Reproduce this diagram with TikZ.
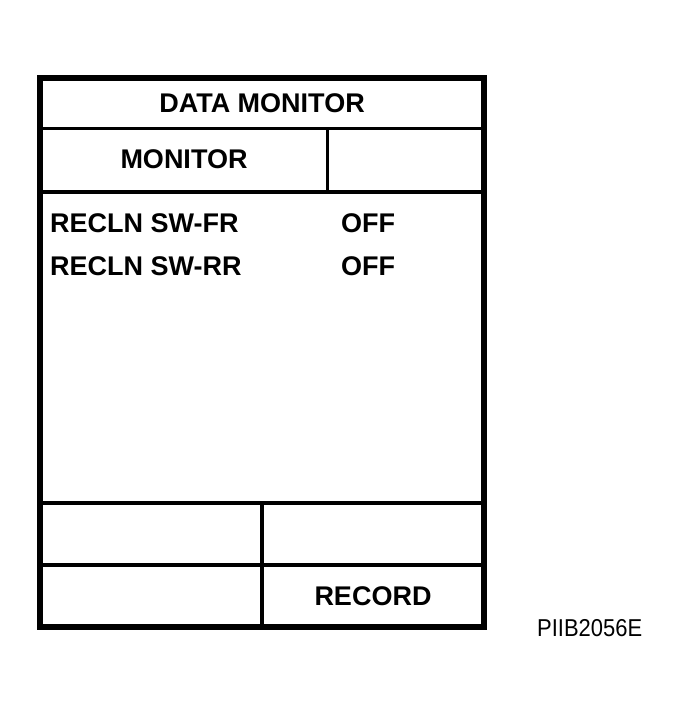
\documentclass[tikz,border=0pt]{standalone}
\usepackage{fontspec}
\setmainfont{Liberation Sans}
\begin{document}
\begin{tikzpicture}[x=1pt,y=-1pt,
  outer/.style={line width=5.5pt},
  inner/.style={line width=3.5pt},
  lbl/.style={inner sep=0pt,font=\fontsize{27}{32}\selectfont\bfseries},
  code/.style={inner sep=0pt,font=\fontsize{24.4}{29}\selectfont,xscale=0.9}]
\useasboundingbox (0,0) rectangle (681,711);
% grid lines
\draw[inner] (40,128.5) -- (484,128.5);
\draw[inner] (40,192) -- (484,192);
\draw[inner] (327.5,128.5) -- (327.5,192);
\draw[inner] (40,503) -- (484,503);
\draw[inner] (40,565) -- (484,565);
\draw[inner] (262,503) -- (262,627);
\draw[outer] (40,78) rectangle (484,627);
% texts
\node[lbl,anchor=base] (title) at (262,112.7) {DATA MONITOR};
\node[lbl,anchor=base] (mon) at (184,168.7) {MONITOR};
\node[lbl,anchor=base west] (sw1) at (50,233) {RECLN SW-FR};
\node[lbl,anchor=base west] (v1) at (341,233) {OFF};
\node[lbl,anchor=base west] (sw2) at (50,275) {RECLN SW-RR};
\node[lbl,anchor=base west] (v2) at (341,275) {OFF};
\node[lbl,anchor=base] (rec) at (373,605.7) {RECORD};
\node[code,anchor=base west] (id) at (537,636.7) {PIIB2056E};
\end{tikzpicture}
\end{document}
